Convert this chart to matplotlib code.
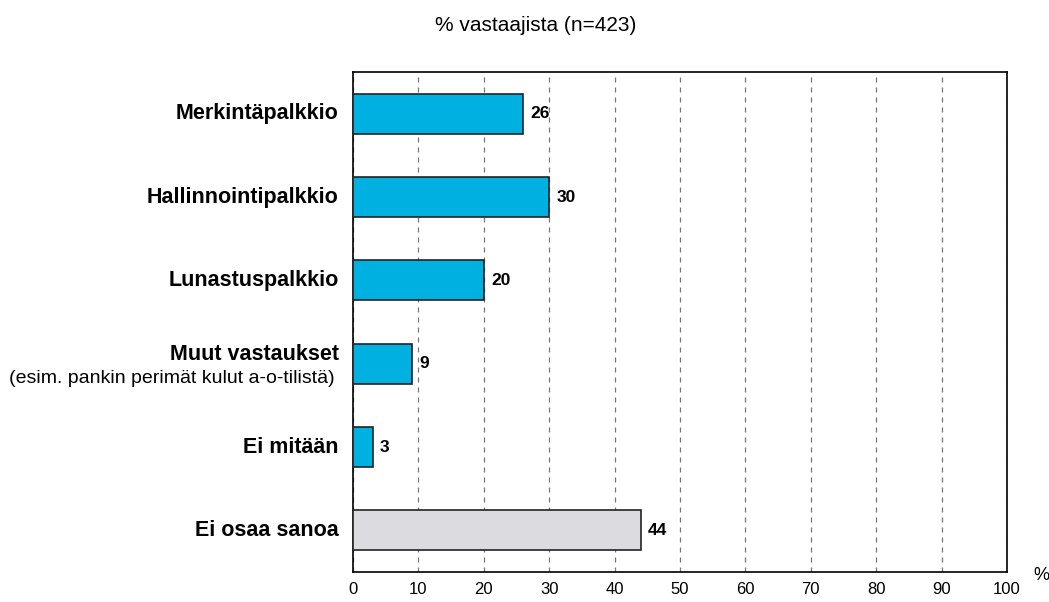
import matplotlib
matplotlib.use("Agg")
import matplotlib.pyplot as plt

plt.rcParams['font.family'] = ['Liberation Sans', 'DejaVu Sans']

# data (top to bottom)
categories = ["Merkintäpalkkio", "Hallinnointipalkkio", "Lunastuspalkkio",
              "Muut vastaukset", "Ei mitään", "Ei osaa sanoa"]
values = [26, 30, 20, 9, 3, 44]
colors = ["#00B0E0"] * 5 + ["#DCDCE0"]
xticks = list(range(0, 101, 10))

fig = plt.figure(figsize=(10.49, 6.02), dpi=100)
ax = fig.add_axes([0.3365, 0.0498, 0.6235, 0.8305])

ypos = list(range(len(categories)))
ax.barh(ypos, values, height=0.48, color=colors, edgecolor="#222222", linewidth=1.2, zorder=3)

# value labels
for y, v in zip(ypos, values):
    ax.text(v + 1.1, y, str(v), va="center", ha="left", fontsize=12.5, fontweight="bold", zorder=4)

ax.set_ylim(len(categories) - 0.5, -0.5)
ax.set_xlim(0, 100)
ax.set_xticks(xticks)
ax.set_xticklabels([str(t) for t in xticks], fontsize=12)
ax.tick_params(axis="x", length=0, pad=7)
ax.set_yticks([])

# category labels, with the subnote under "Muut vastaukset"
for y, c in zip(ypos, categories):
    if c == "Muut vastaukset":
        ax.text(-2.2, y - 0.11, c, ha="right", va="center", fontsize=15.5, fontweight="bold")
        ax.text(-2.8, y + 0.18, "(esim. pankin perimät kulut a-o-tilistä)", ha="right", va="center", fontsize=14)
    else:
        ax.text(-2.2, y, c, ha="right", va="center", fontsize=15.5, fontweight="bold")

ax.grid(axis="x", linestyle=(0, (4, 4)), color="#777777", linewidth=0.9, zorder=0)
for s in ax.spines.values():
    s.set_color("black")
    s.set_linewidth(1.2)

fig.text(0.511, 0.958, "% vastaajista (n=423)", ha="center", va="center", fontsize=15)
ax.text(1.052, -0.006, "%", transform=ax.transAxes, ha="center", va="center", fontsize=13)

fig.savefig("out.png", dpi=100)
